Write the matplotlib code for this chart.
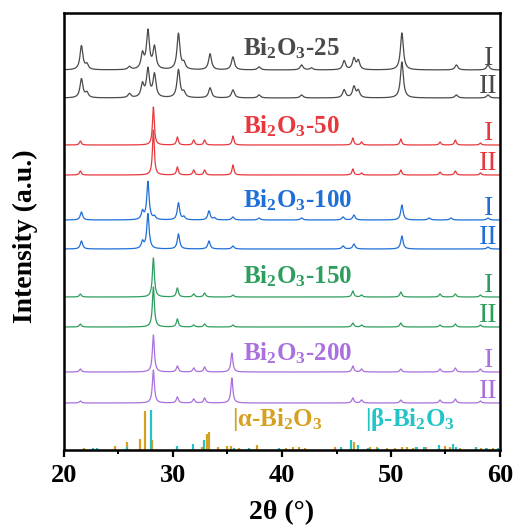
import numpy as np
import matplotlib
matplotlib.use("Agg")
import matplotlib.pyplot as plt

plt.rcParams["font.family"] = ["Liberation Serif", "DejaVu Serif"]
plt.rcParams["font.weight"] = "bold"
plt.rcParams["mathtext.default"] = "regular"

# peak lists: (2theta, height) ; heights in a.u.
s25_I = [(21.6, 24), (22.1, 5), (26.0, 3), (27.2, 15), (27.7, 38), (28.3, 22), (30.5, 36),
         (31.0, 6), (33.4, 16), (35.5, 13), (37.9, 3), (41.8, 5), (42.7, 2), (45.7, 9),
         (46.6, 11), (47.0, 9), (51.0, 37), (56.0, 5), (58.9, 5)]
s25_II = [(21.6, 19), (22.1, 5), (26.0, 4), (27.2, 13), (27.7, 28), (28.3, 23), (30.5, 28),
          (31.0, 5), (33.4, 10), (35.5, 8), (37.9, 3), (41.8, 3), (45.7, 8), (46.6, 11),
          (47.0, 7), (51.0, 36), (56.0, 3), (58.9, 3)]
s50_I = [(21.5, 4), (28.2, 38), (30.4, 8), (31.9, 5), (32.9, 5), (35.5, 9), (46.5, 7),
         (47.3, 3), (50.9, 6), (54.5, 3), (55.9, 5), (58.2, 2)]
s50_II = [(21.5, 4), (28.2, 45), (30.4, 8), (31.9, 5), (32.9, 5), (35.5, 10), (46.5, 6),
          (47.3, 2), (50.9, 5), (54.5, 3), (55.9, 4), (58.2, 2)]
s100_I = [(21.6, 8), (27.2, 8), (27.7, 38), (28.3, 3), (30.5, 17), (31.0, 3), (33.3, 9),
          (33.8, 2), (35.5, 3), (37.9, 2), (41.8, 2), (45.6, 3), (46.6, 5), (51.0, 15),
          (53.5, 2), (55.5, 2), (58.9, 2)]
s100_II = [(21.6, 8), (27.2, 7), (27.7, 35), (30.5, 15), (33.3, 8), (35.5, 3), (45.6, 3),
           (46.6, 5), (51.0, 13), (58.9, 2)]
s150_I = [(21.5, 3), (28.2, 39), (30.4, 9), (31.9, 3), (32.9, 4), (35.5, 2), (46.5, 6),
          (47.3, 2), (50.9, 5), (54.5, 3), (55.9, 3), (58.2, 2)]
s150_II = [(21.5, 3), (28.2, 40), (30.4, 8), (31.9, 2), (32.9, 3), (35.5, 2), (46.5, 4),
           (47.3, 2), (50.9, 4), (54.5, 2), (55.9, 3), (58.2, 2)]
s200_I = [(21.5, 3), (28.2, 37), (30.4, 6), (31.9, 4), (32.9, 5), (35.4, 19), (46.5, 6),
          (47.3, 3), (50.9, 3), (54.5, 3), (55.9, 4), (58.2, 3)]
s200_II = [(21.5, 2), (28.2, 33), (30.4, 6), (31.9, 4), (32.9, 5), (35.4, 25), (46.5, 5),
           (47.3, 3), (50.9, 3), (54.5, 3), (55.9, 4), (58.2, 2)]

# reference patterns (stick positions / heights)
alpha_pos = [21.8, 24.7, 25.8, 27.0, 27.4, 28.1, 32.7, 33.1, 33.3, 34.1, 35.0, 35.3, 36.1,
             37.7, 40.4, 41.0, 41.6, 42.1, 44.9, 46.6, 48.1, 48.7, 49.6, 50.4, 51.0, 51.5,
             52.0, 52.4, 53.2, 55.0, 55.4, 56.3, 57.8, 58.3, 58.8, 59.4]
alpha_h = [2, 4, 8, 11, 39, 10, 3, 16, 18, 3, 4, 4, 2, 5, 2, 3, 3, 2, 3, 8, 3, 3, 2, 2, 3, 3,
           2, 3, 3, 4, 3, 2, 3, 2, 2, 2]
beta_pos = [22.7, 23.0, 25.8, 27.95, 30.4, 31.8, 32.8, 35.6, 37.0, 39.7, 45.4, 46.3, 47.0,
            47.9, 48.8, 52.3, 53.0, 54.4, 55.7, 56.0, 57.8, 58.7, 59.8]
beta_h = [2, 2, 3, 40, 4, 6, 10, 2, 2, 2, 3, 10, 5, 2, 2, 3, 3, 5, 6, 3, 3, 2, 2]

samples = ["25", "50", "100", "150", "200"]
peaks = [(s25_I, s25_II), (s50_I, s50_II), (s100_I, s100_II), (s150_I, s150_II), (s200_I, s200_II)]
offsets = [(380, 352), (305, 275), (230, 201), (153, 123), (78, 47)]
fwhm = [0.32, 0.2, 0.26, 0.22, 0.22]
colors = ["#4A4A4A", "#E8383D", "#1F6FD8", "#2E9E5E", "#A970DE"]
label_y = [395, 317, 243, 167, 90]
alpha_color = "#D6A020"
beta_color = "#22C4C8"

x = np.linspace(20, 60, 4001)


def profile(peak_list, w):
    y = np.zeros_like(x)
    g = (w / 2) ** 2
    for pos, h in peak_list:
        y += h * g / ((x - pos) ** 2 + g)
    return y


fig = plt.figure(figsize=(5.17, 5.32), dpi=100)
ax = fig.add_axes([64 / 517, 82 / 532, 436 / 517, 437 / 532])

for name, (pI, pII), (oI, oII), w, c, ly in zip(samples, peaks, offsets, fwhm, colors, label_y):
    ax.plot(x, oI + profile(pI, w), color=c, lw=0.9)
    ax.plot(x, oII + profile(pII, w), color=c, lw=0.9)
    ax.text(36.4, ly, "Bi$_2$O$_3$-" + name, color=c, fontsize=18, fontweight="bold",
            ha="left", va="baseline")
    ax.text(59.4, oI + 5, "I", color=c, fontsize=20, fontweight="normal", ha="right", va="baseline")
    ax.text(59.75, oII + 5, "II", color=c, fontsize=20, fontweight="normal", ha="right", va="baseline")

ax.vlines(alpha_pos, 0, alpha_h, color=alpha_color, lw=1.6)
ax.vlines(beta_pos, 0, beta_h, color=beta_color, lw=1.6)
ax.text(35.4, 24, "|α-Bi$_2$O$_3$", color=alpha_color, fontsize=18, fontweight="bold",
        ha="left", va="baseline")
ax.text(47.6, 24, "|β-Bi$_2$O$_3$", color=beta_color, fontsize=18, fontweight="bold",
        ha="left", va="baseline")

ax.set_xlim(20, 60)
ax.set_ylim(0, 437)
ax.set_xticks([20, 30, 40, 50, 60])
ax.set_xticks([25, 35, 45, 55], minor=True)
ax.set_yticks([])
ax.tick_params(axis="x", which="major", direction="out", length=5, width=1.6,
               labelsize=19, pad=5)
ax.tick_params(axis="x", which="minor", direction="out", length=3, width=1.4)
for lab in ax.get_xticklabels():
    lab.set_fontweight("bold")
for sp in ax.spines.values():
    sp.set_linewidth(1.8)

fig.text(282 / 517, 1 - 513 / 532, "2θ (°)", fontsize=20, fontweight="bold",
         ha="center", va="center")
fig.text(25 / 517, 1 - 236 / 532, "Intensity (a.u.)", fontsize=20, fontweight="bold",
         ha="center", va="center", rotation=90)

fig.savefig("out.png", dpi=100)
